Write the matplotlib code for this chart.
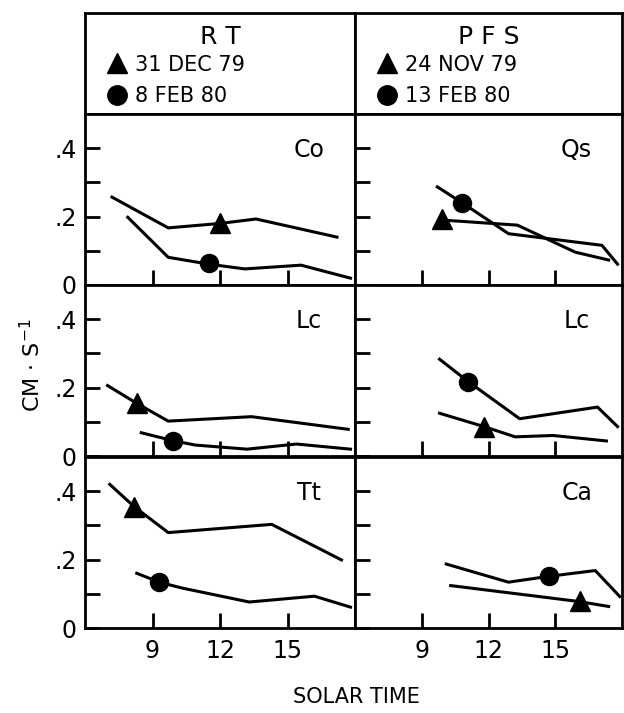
import matplotlib.pyplot as plt
from matplotlib.lines import Line2D

plt.rcParams['font.family'] = 'DejaVu Sans'

# RT site: triangle = 31 DEC 79, circle = 8 FEB 80
co_tri_t = [7.2, 9.7, 12.0, 13.6, 17.2]
co_tri_v = [0.257, 0.167, 0.180, 0.193, 0.140]
co_circ_t = [7.9, 9.7, 11.5, 13.1, 15.6, 17.8]
co_circ_v = [0.198, 0.081, 0.061, 0.047, 0.058, 0.020]

lc1_tri_t = [7.0, 8.3, 9.7, 13.4, 17.7]
lc1_tri_v = [0.206, 0.154, 0.102, 0.115, 0.078]
lc1_circ_t = [8.5, 9.9, 10.9, 13.2, 15.4, 17.8]
lc1_circ_v = [0.068, 0.045, 0.032, 0.020, 0.035, 0.020]

tt_tri_t = [7.1, 8.2, 9.7, 14.3, 17.4]
tt_tri_v = [0.420, 0.354, 0.279, 0.303, 0.199]
tt_circ_t = [8.3, 9.3, 10.3, 13.3, 16.2, 17.8]
tt_circ_v = [0.160, 0.134, 0.117, 0.076, 0.093, 0.061]

# PFS site: triangle = 24 NOV 79, circle = 13 FEB 80
qs_tri_t = [9.9, 13.3, 15.9, 17.4]
qs_tri_v = [0.190, 0.175, 0.096, 0.073]
qs_circ_t = [9.7, 10.8, 12.9, 17.1, 17.8]
qs_circ_v = [0.287, 0.241, 0.150, 0.116, 0.061]

lc2_tri_t = [9.8, 11.8, 13.2, 14.9, 17.3]
lc2_tri_v = [0.125, 0.086, 0.056, 0.060, 0.044]
lc2_circ_t = [9.8, 11.1, 13.4, 16.9, 17.8]
lc2_circ_v = [0.283, 0.217, 0.109, 0.143, 0.086]

ca_tri_t = [10.3, 16.0, 17.4]
ca_tri_v = [0.124, 0.078, 0.063]
ca_circ_t = [10.1, 12.9, 14.7, 16.8, 17.9]
ca_circ_v = [0.187, 0.134, 0.151, 0.168, 0.092]

# marker positions (time, value) on each line
marks = {
    'Co': [(12.0, 0.180), (11.5, 0.063)],
    'Lc1': [(8.3, 0.154), (9.9, 0.045)],
    'Tt': [(8.2, 0.354), (9.3, 0.134)],
    'Qs': [(9.9, 0.192), (10.8, 0.241)],
    'Lc2': [(11.8, 0.085), (11.1, 0.217)],
    'Ca': [(16.1, 0.078), (14.7, 0.151)],
}

sites = ['R T', 'P F S']
dates_tri = ['31 DEC 79', '24 NOV 79']
dates_circ = ['8 FEB 80', '13 FEB 80']
xticks = [9, 12, 15]
yticks = [0, 0.1, 0.2, 0.3, 0.4]
ylabels = ['0', '', '.2', '', '.4']

panels = [
    [('Co', 'Co', co_tri_t, co_tri_v, co_circ_t, co_circ_v),
     ('Qs', 'Qs', qs_tri_t, qs_tri_v, qs_circ_t, qs_circ_v)],
    [('Lc1', 'Lc', lc1_tri_t, lc1_tri_v, lc1_circ_t, lc1_circ_v),
     ('Lc2', 'Lc', lc2_tri_t, lc2_tri_v, lc2_circ_t, lc2_circ_v)],
    [('Tt', 'Tt', tt_tri_t, tt_tri_v, tt_circ_t, tt_circ_v),
     ('Ca', 'Ca', ca_tri_t, ca_tri_v, ca_circ_t, ca_circ_v)],
]

fig = plt.figure(figsize=(6.24, 7.13), dpi=100)
W, H = 624.0, 713.0
left, mid, right = 85 / W, 355 / W, 622 / W
col_x = [left, mid]
col_w = [mid - left, right - mid]
row_tops = [114, 285, 457]
row_h = 171

lw_spine = 2.0

# header boxes
for c in range(2):
    hx = fig.add_axes([col_x[c], 1 - 114 / H, col_w[c], 101 / H])
    hx.set_xticks([])
    hx.set_yticks([])
    for s in hx.spines.values():
        s.set_linewidth(lw_spine)
    hx.text(0.5, 0.76, sites[c], transform=hx.transAxes, ha='center', va='center',
            fontsize=18)
    handles = [Line2D([], [], ls='none', marker='^', color='k', markersize=15),
               Line2D([], [], ls='none', marker='o', color='k', markersize=14)]
    hx.legend(handles, [dates_tri[c], dates_circ[c]], loc='upper left',
              bbox_to_anchor=(0.04, 0.67), frameon=False, fontsize=15,
              handletextpad=0.3, labelspacing=0.55, borderaxespad=0,
              handlelength=1.2)

for r in range(3):
    for c in range(2):
        key, name, tt, tv, ct, cv = panels[r][c]
        ax = fig.add_axes([col_x[c], 1 - (row_tops[r] + row_h) / H, col_w[c], row_h / H])
        ax.plot(tt, tv, color='k', lw=2.2)
        ax.plot(ct, cv, color='k', lw=2.2)
        (mt, mv), (nt, nv) = marks[key]
        ax.plot([mt], [mv], ls='none', marker='^', color='k', markersize=14)
        ax.plot([nt], [nv], ls='none', marker='o', color='k', markersize=13)
        ax.set_xlim(6, 18)
        ax.set_ylim(0, 0.5)
        ax.set_xticks(xticks)
        ax.set_yticks(yticks)
        ax.tick_params(direction='in', length=11, width=2)
        if c == 0:
            ax.set_yticklabels(ylabels, fontsize=17)
        else:
            ax.set_yticklabels([])
        if r == 2:
            ax.set_xticklabels([str(x) for x in xticks], fontsize=17)
        else:
            ax.set_xticklabels([])
        ax.tick_params(axis='x', pad=8)
        ax.tick_params(axis='y', pad=6)
        for s in ax.spines.values():
            s.set_linewidth(lw_spine)
        ax.text(0.83, 0.79, name, transform=ax.transAxes, ha='center', va='center',
                fontsize=17)

fig.text(32 / W, 1 - 365 / H, 'CM · S$^{-1}$', rotation=90, ha='center', va='center',
         fontsize=16)
fig.text(356 / W, 1 - 697 / H, 'SOLAR TIME', ha='center', va='center', fontsize=15)

fig.savefig('out.png', dpi=100)
